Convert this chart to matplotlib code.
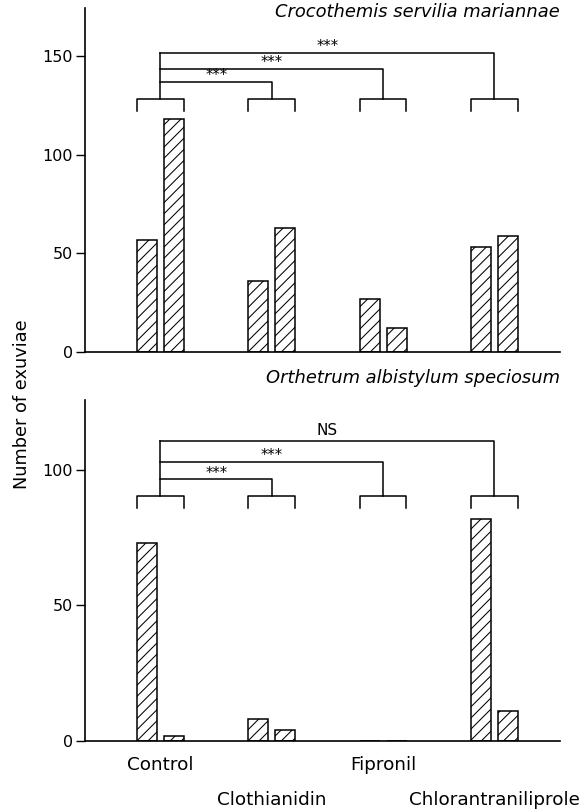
import numpy as np
import matplotlib.pyplot as plt

# Data
treatments = ['Control', 'Clothianidin', 'Fipronil', 'Chlorantraniliprole']
top_first = [57, 36, 27, 53]
top_second = [118, 63, 12, 59]
bottom_first = [73, 8, 0, 82]
bottom_second = [2, 4, 0, 11]
top_title = 'Crocothemis servilia mariannae'
bottom_title = 'Orthetrum albistylum speciosum'
top_signif = ['***', '***', '***']
bottom_signif = ['***', '***', 'NS']

plt.rcParams['hatch.linewidth'] = 0.75
plt.rcParams['font.family'] = ['DejaVu Sans']

fig = plt.figure(figsize=(5.83, 8.09), dpi=100)
ax_top = fig.add_axes([0.1458, 0.5649, 0.8147, 0.4252])
ax_bot = fig.add_axes([0.1458, 0.0841, 0.8147, 0.4215])

x = np.arange(len(treatments))
bar_w = 0.18
off = 0.121
leg = 0.21


def draw_panel(ax, first, second, signif, ylim, yticks, bracket_y, leg_y, line_ys):
    lw = 1.1
    ax.bar(x - off, first, bar_w, color='white', edgecolor='black', hatch='///', linewidth=lw)
    ax.bar(x + off, second, bar_w, color='white', edgecolor='black', hatch='///', linewidth=lw)
    ax.set_xlim(-0.678, 3.589)
    ax.set_ylim(0, ylim)
    ax.set_yticks(yticks)
    ax.set_xticks([])
    for s in ['top', 'right']:
        ax.spines[s].set_visible(False)
    ax.spines['left'].set_linewidth(1.2)
    ax.spines['bottom'].set_linewidth(1.2)
    ax.tick_params(axis='y', direction='out', length=6.5, width=1.0, labelsize=11.5, pad=2)

    # group brackets
    for xi in x:
        ax.plot([xi - leg, xi - leg, xi + leg, xi + leg], [leg_y, bracket_y, bracket_y, leg_y],
                color='black', lw=lw, clip_on=False)
    # stem from control up to the highest line
    ax.plot([x[0], x[0]], [bracket_y, line_ys[-1]], color='black', lw=lw, clip_on=False)
    for xi, ly, lab in zip(x[1:], line_ys, signif):
        ax.plot([x[0], xi, xi], [ly, ly, bracket_y], color='black', lw=lw, clip_on=False)
        if lab == 'NS':
            ax.text((x[0] + xi) / 2, ly + 0.8, lab, ha='center', va='bottom', fontsize=11)
        else:
            ax.text((x[0] + xi) / 2, ly - 0.6, lab, ha='center', va='bottom', fontsize=10.5)


draw_panel(ax_top, top_first, top_second, top_signif, 174.3, [0, 50, 100, 150],
           128.2, 122.3, [137.0, 143.6, 151.4])
draw_panel(ax_bot, bottom_first, bottom_second, bottom_signif, 125.8, [0, 50, 100],
           90.2, 86.0, [96.6, 103.1, 110.8])

fig.text(0.960, 0.985, top_title, ha='right', va='center', fontsize=12.9, style='italic')
fig.text(0.960, 0.533, bottom_title, ha='right', va='center', fontsize=12.9, style='italic')

# category labels, staggered on two rows
for i, name in enumerate(treatments):
    yy = -8.9 if i % 2 == 0 else -21.8
    ax_bot.text(x[i], yy, name, ha='center', va='center', fontsize=13.2, clip_on=False)

fig.text(0.038, 0.5, 'Number of exuviae', rotation=90, ha='center', va='center',
         fontsize=12.8)

fig.savefig('out.png', dpi=100)
